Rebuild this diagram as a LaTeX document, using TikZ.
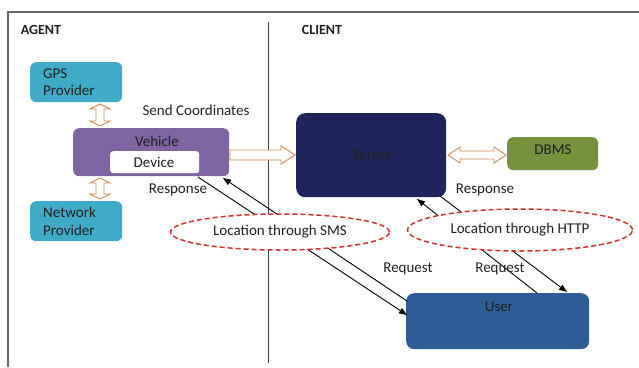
\documentclass[tikz,border=0pt]{standalone}
\usepackage{fontspec}
\setmainfont{Carlito}
\usetikzlibrary{calc,arrows.meta,shapes.geometric}
\definecolor{gpsc}{HTML}{40ABC6}
\definecolor{vehc}{HTML}{8064A2}
\definecolor{srvc}{HTML}{1F255A}
\definecolor{dbc}{HTML}{76923C}
\definecolor{usrc}{HTML}{2E5C94}
\definecolor{hol}{HTML}{CF8A52}
\definecolor{redd}{HTML}{D2302B}
\definecolor{txt}{HTML}{202020}
\begin{document}
\begin{tikzpicture}[x=1pt,y=-1pt,
  every node/.style={font=\fontsize{15}{17.5}\selectfont, text=txt},
  box/.style={rounded corners=6pt, inner sep=0pt, anchor=north west},
  lbox/.style={box, align=left, text width=66pt, inner xsep=13pt},
  hollow/.style={draw=hol, fill=white, line width=0.9pt, line join=miter},
  conn/.style={draw=black, line width=0.9pt},
  tip/.style={-{Triangle[length=8pt,width=6pt]}},
  loc/.style={ellipse, draw=redd, fill=white, line width=1.5pt, dash pattern=on 5pt off 3pt, inner sep=0pt},
  lbl/.style={inner sep=0pt}]
\useasboundingbox (0,0) rectangle (639,367);
% frame and divider
\draw[gray!80!black, line width=1.1pt] (639,12) -- (8,12) -- (8,367);
\coordinate (dtop) at (268,22);
\coordinate (dbot) at (268,363);
\draw[black!75, line width=1pt] (dtop) -- (dbot);
\node[lbl, font=\fontsize{14}{17}\selectfont\bfseries] (agent) at (41,30) {AGENT};
\node[lbl, font=\fontsize{14}{17}\selectfont\bfseries] (client) at (322,30) {CLIENT};
% boxes
\node[lbox, fill=gpsc, minimum width=92pt, minimum height=40pt] (gps) at (30,62) {GPS\\Provider};
\node[lbox, fill=gpsc, minimum width=92pt, minimum height=40pt] (net) at (30,201) {Network\\Provider};
\node[box, fill=vehc, minimum width=156pt, minimum height=48pt] (veh) at (73,128) {};
\node[lbl] (vehl) at (157,141) {Vehicle};
\node[box, fill=white, rounded corners=3pt, minimum width=89pt, minimum height=22pt] (dev) at (110,151) {};
\node[lbl] (devl) at (154,162) {Device};
\node[box, fill=srvc, rounded corners=9pt, minimum width=150pt, minimum height=84pt] (srv) at (296,113) {};
\node[lbl] (srvl) at (372,155) {Server};
\node[box, fill=dbc, minimum width=91pt, minimum height=33pt] (dbms) at (507,137) {};
\node[lbl] (dbmsl) at (553,150) {DBMS};
\node[box, fill=usrc, rounded corners=8pt, minimum width=183pt, minimum height=56pt] (usr) at (406,293) {};
\node[lbl] (usrl) at (499,307) {User};
% hollow arrows
\draw[hollow] (100,104) -- (110,109) -- (104,109) -- (104,121) -- (110,121) -- (100,126) -- (90,121) -- (96,121) -- (96,109) -- (90,109) -- cycle;
\draw[hollow] (100,178) -- (110,183) -- (104,183) -- (104,194) -- (110,194) -- (100,199) -- (90,194) -- (96,194) -- (96,183) -- (90,183) -- cycle;
\draw[hollow] (230,150) -- (281,150) -- (281,146) -- (295,155) -- (281,164) -- (281,160) -- (230,160) -- cycle;
\draw[hollow] (448,155) -- (460,147) -- (460,151) -- (494,151) -- (494,147) -- (506,155) -- (494,163) -- (494,159) -- (460,159) -- (460,163) -- cycle;
% connectors
\coordinate (s1a) at (198,177);
\coordinate (s1b) at (407,315);
\coordinate (s2a) at (407,301);
\coordinate (s2b) at (223,178);
\coordinate (h1a) at (440,196);
\coordinate (h1b) at (567,292);
\coordinate (h2a) at (537,293);
\coordinate (h2b) at (417,199);
\draw[conn, tip] (s1a) -- (s1b);
\draw[conn, tip] (s2a) -- (s2b);
\draw[conn, tip] (h1a) -- (h1b);
\draw[conn, tip] (h2a) -- (h2b);
% ellipses
\node[loc, minimum width=219pt, minimum height=36pt] (sms) at (280,232) {Location through SMS};
\node[loc, minimum width=225pt, minimum height=42pt] (http) at (520,230) {\raisebox{3pt}{Location through HTTP}};
% labels
\node[lbl] (sendc) at (196,110) {Send Coordinates};
\node[lbl] (resp1) at (178,190) {Response};
\node[lbl] (resp2) at (485,190) {Response};
\node[lbl] (req1) at (408,269) {Request};
\node[lbl] (req2) at (500,269) {Request};
\end{tikzpicture}
\end{document}
